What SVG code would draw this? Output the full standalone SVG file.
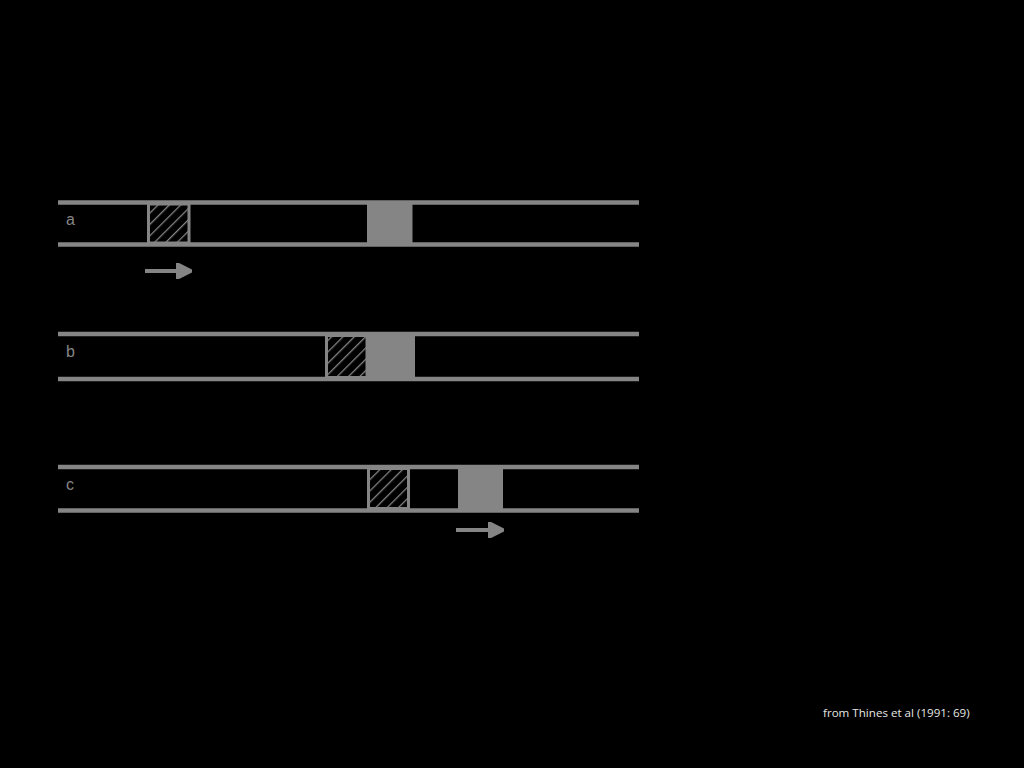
<svg xmlns="http://www.w3.org/2000/svg" width="1024" height="768" viewBox="0 0 1024 768">
<style>
.rail{stroke:#858585;stroke-width:4.5;fill:none}
.hatch{fill:url(#h);stroke:#858585;stroke-width:3}
.solid{fill:#858585}
.lbl{font-family:"Liberation Sans",Arial,sans-serif;font-size:16px;fill:#858585}
.arr{stroke:#858585;stroke-width:4;fill:none}
.cap{font-family:"Open Sans","DejaVu Sans",sans-serif;font-size:11.6px;fill:#e6e6e6}
</style>
<defs>
<pattern id="h" patternUnits="userSpaceOnUse" width="8" height="8" patternTransform="rotate(45)">
<rect width="8" height="8" fill="#000"/>
<line x1="0" y1="0" x2="0" y2="8" stroke="#858585" stroke-width="2.6"/>
</pattern>
<marker id="ah" viewBox="0 0 10 10" refX="6" refY="5" markerWidth="4" markerHeight="4" orient="auto" markerUnits="strokeWidth">
<path d="M0,0 L10,5 L0,10 Z" fill="#858585" stroke="#858585" stroke-width="1.5" stroke-linejoin="round"/>
</marker>
</defs>
<rect width="1024" height="768" fill="#000"/>
<g id="row-a">
<line class="rail" x1="58" y1="202.5" x2="639" y2="202.5"/>
<line class="rail" x1="58" y1="244.5" x2="639" y2="244.5"/>
<rect class="hatch" x="148.5" y="204" width="40.5" height="39"/>
<rect class="solid" x="367" y="202" width="45.5" height="43"/>
<text class="lbl" x="66" y="225">a</text>
</g>
<g id="row-b">
<line class="rail" x1="58" y1="334" x2="639" y2="334"/>
<line class="rail" x1="58" y1="379" x2="639" y2="379"/>
<rect class="hatch" x="326.5" y="335.5" width="40.5" height="42"/>
<rect class="solid" x="367" y="334" width="48" height="45"/>
<text class="lbl" x="66" y="357">b</text>
</g>
<g id="row-c">
<line class="rail" x1="58" y1="467" x2="639" y2="467"/>
<line class="rail" x1="58" y1="510.5" x2="639" y2="510.5"/>
<rect class="hatch" x="368.5" y="468.5" width="40" height="40"/>
<rect class="solid" x="458" y="467" width="45" height="43"/>
<text class="lbl" x="66" y="490">c</text>
</g>
<g id="connectors">
<line class="arr" x1="145" y1="271" x2="186" y2="271" marker-end="url(#ah)"/>
<line class="arr" x1="456" y1="530" x2="498" y2="530" marker-end="url(#ah)"/>
</g>
<text class="cap" x="823" y="717">from Thines et al (1991: 69)</text>
</svg>
